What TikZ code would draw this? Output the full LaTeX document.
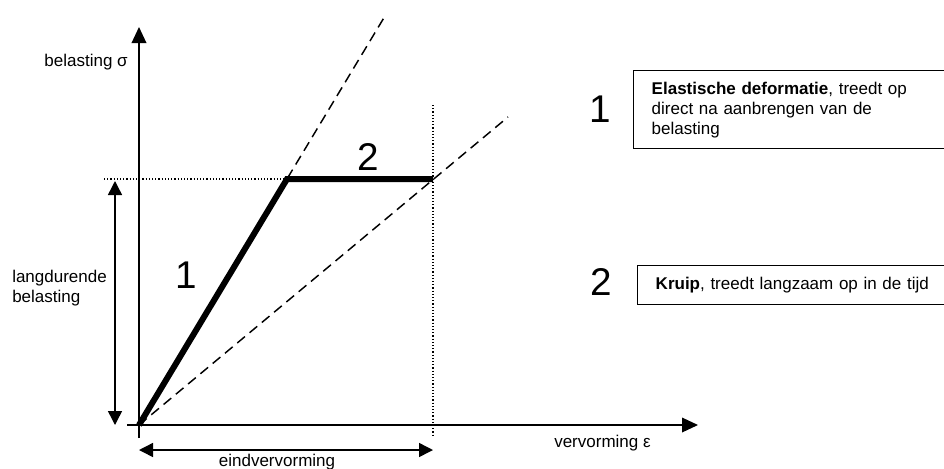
\documentclass[tikz,border=0pt]{standalone}
\usepackage{fontspec}
\setmainfont{Liberation Sans}
\usetikzlibrary{arrows.meta,positioning,calc}

\begin{document}
\begin{tikzpicture}[
  x=0.75pt, y=-0.75pt,
  font=\fontsize{12.75}{15}\selectfont,
  axis/.style={draw=black, line width=1pt, -{Triangle[length=12pt,width=11pt]}},
  span/.style={draw=black, line width=1.1pt, {Triangle[length=10.5pt,width=10.5pt]}-{Triangle[length=10.5pt,width=10.5pt]}},
  curve/.style={draw=black, line width=4.5pt, line join=miter},
  guide/.style={draw=black, line width=1.1pt, dash pattern=on 7.5pt off 4.5pt},
  helper/.style={draw=black, line width=0.9pt, dash pattern=on 0.9pt off 1.5pt},
  phase/.style={font=\fontsize{29}{29}\selectfont, inner sep=0pt},
  descbox/.style={draw=black, line width=1.1pt, anchor=north west, align=left, inner xsep=13.5pt, inner ysep=0pt},
  lbl/.style={inner sep=0pt}
]
  \useasboundingbox (0,0) rectangle (944,468);

  % points of the diagram
  \coordinate (O) at (139,425);
  \coordinate (knee) at (287,179);
  \coordinate (creep) at (433,179);
  \coordinate (ytop) at (139,27);
  \coordinate (ybot) at (139,438);
  \coordinate (xleft) at (127,425);
  \coordinate (xright) at (698,425);
  \coordinate (steep) at (385,16);
  \coordinate (flat) at (508,117);
  \coordinate (hleft) at (104,179);
  \coordinate (vtop) at (433,105);
  \coordinate (vbot) at (433,435);
  \coordinate (loadtop) at (115,181);
  \coordinate (loadbot) at (115,425);
  \coordinate (endl) at (139,450);
  \coordinate (endr) at (433,450);

  % dashed and dotted guides
  \draw[guide] (O) -- (steep);
  \draw[guide] (O) -- (flat);
  \draw[helper] (hleft) -- (knee);
  \draw[helper] (vtop) -- (vbot);

  % axes
  \draw[axis] (ybot) -- (ytop);
  \draw[axis] (xleft) -- (xright);

  % load path
  \draw[curve] (O) -- (knee) -- (creep);

  % spans
  \draw[span] (loadtop) -- (loadbot);
  \draw[span] (endl) -- (endr);

  % labels
  \node[lbl, anchor=base east] (ylabel) at (128,66) {belasting σ};
  \node[lbl, anchor=base west] (xlabel) at (554,447) {vervorming ε};
  \node[lbl, anchor=west, align=left] (loadlabel) at (12,288) {langdurende\\belasting};
  \node[lbl, anchor=base] (endlabel) at (277,466) {eindvervorming};
  \node[phase] (p1) at (186,275) {1};
  \node[phase] (p2) at (368,156.5) {2};

  % legend
  \node[phase] (l1) at (600,109) {1};
  \node[descbox, minimum width=238pt, minimum height=58.5pt, text width=211pt] (b1) at (633,70)
    {\textbf{Elastische deformatie}, treedt op\\direct na aanbrengen van de\\belasting};
  \node[phase] (l2) at (601,281.5) {2};
  \node[descbox, minimum width=235pt, minimum height=29.25pt, text width=208pt] (b2) at (637,265)
    {\textbf{Kruip}, treedt langzaam op in de tijd};
\end{tikzpicture}
\end{document}
